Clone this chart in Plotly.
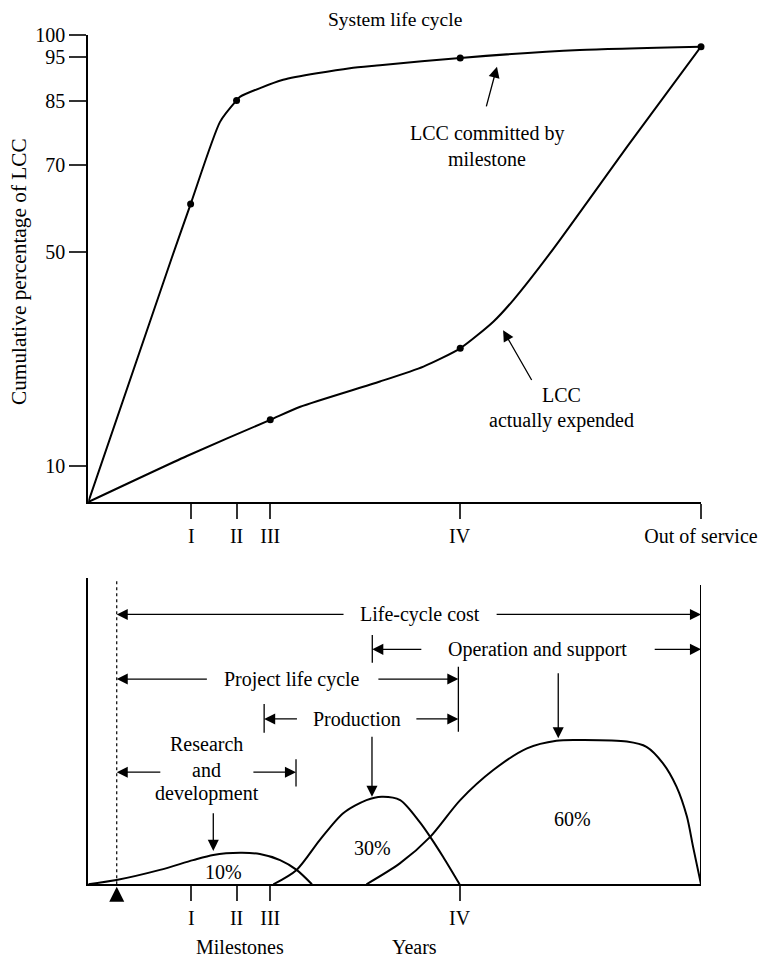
import plotly.graph_objects as go

# ---------------- data (in the chart's axis units) -------------
# x axis: time, origin = 0, "Out of service" = 100
milestone_x = [16.8, 24.2, 29.7, 60.6, 100.0]
milestone_top_labels = ["I", "II", "III", "IV", "Out of service"]
milestone_bottom_labels = ["I", "II", "III", "IV"]

# top chart y-axis tick positions and the labels printed there (schematic, non-linear scale)
ytick_pos = [7.7, 53.6, 72.2, 85.9, 95.2, 100.0]
ytick_labels = ["10", "50", "70", "85", "95", "100"]

# LCC committed by milestone
committed_x = [0.0, 13.6, 16.7, 21.5, 24.2, 24.8, 31.8, 42.7, 47.6, 60.7, 80.2, 100.0]
committed_y = [0.0, 52.2, 63.8, 81.4, 86.0, 86.8, 90.4, 92.9, 93.5, 95.1, 96.8, 97.5]
committed_mx = [16.7, 24.2, 60.7, 100.0]
committed_my = [63.8, 86.0, 95.1, 97.5]

# LCC actually expended
expended_x = [0.0, 16.1, 29.7, 34.6, 47.6, 54.7, 60.7, 66.1, 69.4, 75.9, 88.4, 100.0]
expended_y = [0.0, 9.85, 17.6, 20.4, 25.8, 29.0, 32.9, 38.6, 43.3, 54.2, 76.9, 97.5]
expended_mx = [29.7, 60.7]
expended_my = [17.6, 32.9]

# bottom chart: spending profiles
rd_x = [0.0, 4.6, 11.7, 17.1, 20.4, 24.8, 28.0, 31.3, 34.0, 36.5]
rd_y = [0.0, 1.4, 4.7, 7.9, 9.6, 10.3, 9.9, 7.9, 4.7, 0.0]
prod_x = [30.2, 34.0, 37.8, 41.6, 45.4, 47.9, 50.9, 54.1, 55.8, 57.9, 60.6]
prod_y = [0.0, 4.7, 14.5, 23.2, 27.5, 28.6, 27.5, 20.3, 15.5, 9.0, 0.0]
ops_x = [45.4, 50.9, 55.8, 60.7, 66.1, 71.6, 76.4, 80.8, 87.9, 91.1, 93.8, 96.0, 97.7, 98.7, 100.0]
ops_y = [0.0, 6.9, 15.5, 27.5, 37.3, 44.4, 46.9, 47.1, 46.6, 44.9, 39.5, 31.9, 22.1, 12.3, 0.0]
share_labels = ["10%", "30%", "60%"]

# phase boundaries (x units)
rd_start, rd_end = 4.64, 33.9
prod_start, prod_end = 28.7, 60.4
ops_start, ops_end = 46.35, 100.0

FONT = "Liberation Serif"
FS = 20
BLACK = "black"

# page has an 8px body margin, so the figure is drawn 8px smaller and offsets are compensated
OFF = 8
W, H = 768 - OFF, 961 - OFF
def px_x(p):
    return (p - OFF) / W
def px_y(p):
    return (H - (p - OFF)) / H

fig = go.Figure()

# ---------------- top chart ----------------
fig.add_trace(go.Scatter(x=committed_x, y=committed_y, mode="lines",
                         line=dict(color=BLACK, width=2, shape="spline", smoothing=0.6),
                         xaxis="x", yaxis="y", hoverinfo="skip"))
fig.add_trace(go.Scatter(x=expended_x, y=expended_y, mode="lines",
                         line=dict(color=BLACK, width=2, shape="spline", smoothing=0.6),
                         xaxis="x", yaxis="y", hoverinfo="skip"))
fig.add_trace(go.Scatter(x=committed_mx + expended_mx, y=committed_my + expended_my,
                         mode="markers", marker=dict(color=BLACK, size=7),
                         xaxis="x", yaxis="y", cliponaxis=False, hoverinfo="skip"))

# ---------------- bottom chart ----------------
for xs, ys in [(rd_x, rd_y), (prod_x, prod_y), (ops_x, ops_y)]:
    fig.add_trace(go.Scatter(x=xs, y=ys, mode="lines",
                             line=dict(color=BLACK, width=2, shape="spline", smoothing=0.8),
                             xaxis="x2", yaxis="y2", hoverinfo="skip"))

XDOM = [px_x(88.3), px_x(701)]
fig.update_layout(
    width=W, height=H, autosize=False,
    margin=dict(l=0, r=0, t=0, b=0, pad=0, autoexpand=False),
    paper_bgcolor="white", plot_bgcolor="white",
    showlegend=False,
    font=dict(family=FONT, size=FS, color=BLACK),
    xaxis=dict(domain=XDOM, range=[0, 100], anchor="y", showline=True, linecolor=BLACK,
               linewidth=2, ticks="outside", ticklen=15, tickwidth=1.5, tickcolor="#333",
               tickvals=milestone_x, ticktext=milestone_top_labels, showgrid=False,
               zeroline=False, tickfont=dict(size=FS), automargin=False),
    yaxis=dict(domain=[px_y(502), px_y(35)], range=[0, 100], anchor="x",
               showline=True, linecolor=BLACK, linewidth=2, ticks="outside", ticklen=17,
               tickwidth=1.5, tickcolor="#333", tickvals=ytick_pos, ticktext=ytick_labels,
               showgrid=False, zeroline=False, tickfont=dict(size=FS), automargin=False),
    xaxis2=dict(domain=XDOM, range=[0, 100], anchor="y2", showline=True, linecolor=BLACK,
                linewidth=2, ticks="outside", ticklen=15, tickwidth=1.5, tickcolor="#333",
                tickvals=milestone_x[:4], ticktext=milestone_bottom_labels, showgrid=False,
                zeroline=False, tickfont=dict(size=FS), automargin=False),
    yaxis2=dict(domain=[px_y(884.3), px_y(578)], range=[0, 100], anchor="x2",
                showline=True, linecolor=BLACK, linewidth=2, showticklabels=False,
                ticks="", showgrid=False, zeroline=False, automargin=False),
)

ann = []
def text(x, y, s, ref="2", size=FS):
    r = ref if ref != "1" else ""
    ann.append(dict(x=x, y=y, xref="x" + r, yref="y" + r,
                    text=s, showarrow=False, font=dict(size=size), xanchor="center", yanchor="middle"))

def arrow(x, y, ax, ay, ref="2"):
    r = ref if ref != "1" else ""
    ann.append(dict(x=x, y=y, ax=ax, ay=ay, xref="x" + r, yref="y" + r, axref="x" + r, ayref="y" + r,
                    text="", showarrow=True, arrowhead=2, arrowsize=1.7, arrowwidth=1.3,
                    arrowcolor=BLACK, standoff=0, startstandoff=0))

def ptext(xp, yp, s, angle=0, size=FS):
    ann.append(dict(x=px_x(xp), y=px_y(yp), xref="paper", yref="paper", text=s, textangle=angle,
                    showarrow=False, font=dict(size=size), xanchor="center", yanchor="middle"))

# paper texts
ptext(395, 19.5, "System life cycle", size=19.5)
ptext(19, 272, "Cumulative percentage of LCC", angle=-90, size=21.3)
ptext(240, 946.7, "Milestones")
ptext(414, 946.7, "Years")

# top chart labels and arrows
text(65.0, 79.0, "LCC committed by", ref="1")
text(65.0, 73.4, "milestone", ref="1")
arrow(66.7, 93.2, 64.9, 84.4, ref="1")
text(77.3, 22.9, "LCC", ref="1")
text(77.3, 17.4, "actually expended", ref="1")
arrow(67.7, 36.8, 72.5, 25.8, ref="1")

# bottom chart: range arrows
text(54.1, 88.1, "Life-cycle cost")
arrow(rd_start, 88.1, 41.9, 88.1)
arrow(ops_end, 88.1, 66.4, 88.1)

text(73.3, 76.7, "Operation and support")
arrow(ops_start, 76.7, 54.6, 76.7)
arrow(ops_end, 76.7, 92.2, 76.7)

text(33.3, 67.0, "Project life cycle")
arrow(rd_start, 67.0, 19.6, 67.0)
arrow(prod_end, 67.0, 47.1, 67.0)

text(43.9, 54.0, "Production")
arrow(prod_start, 54.0, 34.3, 54.0)
arrow(prod_end, 54.0, 53.3, 54.0)

text(19.3, 45.8, "Research")
text(19.3, 37.3, "and")
text(19.3, 29.5, "development")
arrow(rd_start, 36.6, 12.0, 36.6)
arrow(rd_end, 36.6, 26.7, 36.6)

# down arrows to curves
arrow(20.4, 10.9, 20.4, 23.7)
arrow(46.3, 28.6, 46.3, 48.7)
arrow(76.7, 47.7, 76.7, 69.4)

# start-of-life-cycle marker (filled triangle below the time axis)
ann.append(dict(x=rd_start, y=0, xref="x2", yref="y2", ax=0, ay=15, axref="pixel", ayref="pixel",
                text="", showarrow=True, arrowhead=2, arrowsize=1.5, arrowwidth=2,
                arrowcolor=BLACK, standoff=2.5, startstandoff=0))

# share labels
text(22.0, 4.1, share_labels[0])
text(46.4, 11.8, share_labels[1])
text(79.1, 21.2, share_labels[2])

fig.update_layout(annotations=ann)

# shapes: boundary ticks, right frame line, dotted start line
shapes = []
def vline(x, y0, y1, dash="solid", width=1.3):
    shapes.append(dict(type="line", xref="x2", yref="y2", x0=x, x1=x, y0=y0, y1=y1,
                       line=dict(color=BLACK, width=width, dash=dash)))
vline(ops_start, 72.3, 81.4)
vline(prod_end, 49.8, 71.0)
vline(prod_start, 49.5, 58.9)
vline(rd_end, 31.9, 40.8)
vline(ops_end, 0, 97.7, width=2)
vline(rd_start, 0, 99.3, dash="dot", width=1.2)
fig.update_layout(shapes=shapes)

fig.write_html("out.html")
